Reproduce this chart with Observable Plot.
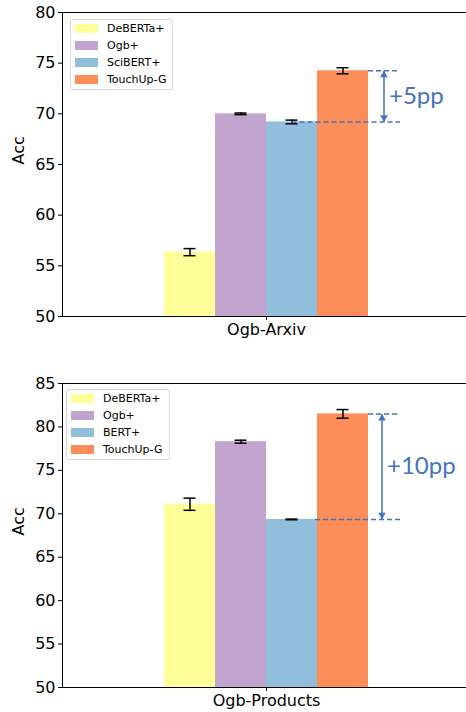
<!DOCTYPE html>
<html><head><meta charset="utf-8">
<script src="https://cdn.jsdelivr.net/npm/d3@7"></script>
<script src="https://cdn.jsdelivr.net/npm/@observablehq/plot@0.6"></script>
<style>
body{margin:0;background:#fff;}
#root{width:466px;height:712px;overflow:hidden;position:relative;background:#fff;}
.panel{position:relative;width:466px;overflow:hidden;}
.panel svg{display:block;max-width:none !important;height:auto;}
.legend{position:absolute;box-sizing:border-box;background:#fff;border:1px solid #d6d6d6;border-radius:3px;font:11px "DejaVu Sans",sans-serif;color:#000;}
.legend .row{display:flex;align-items:center;height:17px;}
.legend .sw{display:inline-block;width:23px;height:9px;}
</style>
</head><body><div id="root"></div>
<script>
// ---- data ----
const arxivDataset = "Ogb-Arxiv";
const arxivModels = ["DeBERTa+", "Ogb+", "SciBERT+", "TouchUp-G"];
const arxivAcc = [56.35, 70.0, 69.2, 74.25];
const arxivErr = [0.35, 0.08, 0.18, 0.3];
const arxivTicks = [50, 55, 60, 65, 70, 75, 80];

const productsDataset = "Ogb-Products";
const productsModels = ["DeBERTa+", "Ogb+", "BERT+", "TouchUp-G"];
const productsAcc = [71.1, 78.3, 69.35, 81.5];
const productsErr = [0.7, 0.17, 0.04, 0.5];
const productsTicks = [50, 55, 60, 65, 70, 75, 80, 85];

const colors = ["#ffff99", "#c2a5cf", "#91bfdb", "#fc8d59"];
const yLabel = "Acc";
const arxivGain = {label: "+5pp", from: "SciBERT+", to: "TouchUp-G"};
const productsGain = {label: "+10pp", from: "BERT+", to: "TouchUp-G"};

const annColor = "#4472c4";

function panel(cfg) {
  const {dataset, models, acc, err, ticks, gain, height, marginTop, marginBottom, lowStart, lowInset, arrowDx, legendPos} = cfg;
  const data = models.map((m, i) => ({dataset, model: m, acc: acc[i], err: err[i]}));
  const yMin = ticks[0], yMax = ticks[ticks.length - 1];
  const lo = d => d.acc - d.err, hi = d => d.acc + d.err;
  const fromD = data.find(d => d.model === gain.from);
  const toD = data.find(d => d.model === gain.to);
  const ann = [{dataset, from: gain.from, to: gain.to, start: lowStart, low: fromD.acc, high: toD.acc, label: gain.label}];
  const bw = 51;
  const chart = Plot.plot({
    width: 472, height, marginLeft: 62, marginRight: 2, marginTop, marginBottom,
    style: {fontFamily: "DejaVu Sans", fontSize: "16px", background: "white", color: "black", maxWidth: "none"},
    fx: {domain: [dataset], padding: 0, axis: "bottom", tickSize: 4, tickPadding: 3, label: null},
    x: {domain: models, paddingInner: 0, paddingOuter: 2, axis: null},
    y: {domain: [yMin, yMax], ticks, tickSize: 4, tickPadding: 3, label: null},
    color: {domain: models, range: colors},
    marks: [
      Plot.barY(data, {fx: "dataset", x: "model", y1: yMin, y2: "acc", fill: "model"}),
      Plot.ruleX(data, {fx: "dataset", x: "model", y1: lo, y2: hi, stroke: "black", strokeWidth: 1.5}),
      Plot.tickY(data, {fx: "dataset", x: "model", y: lo, insetLeft: 19.5, insetRight: 19.5, stroke: "black", strokeWidth: 1.5}),
      Plot.tickY(data, {fx: "dataset", x: "model", y: hi, insetLeft: 19.5, insetRight: 19.5, stroke: "black", strokeWidth: 1.5}),
      Plot.ruleY(ann, {fx: "dataset", x1: "to", x2: "to", y: "high", insetLeft: bw, insetRight: -32, stroke: annColor, strokeWidth: 1.5, strokeDasharray: "5,3"}),
      Plot.ruleY(ann, {fx: "dataset", x1: "start", x2: "to", y: "low", insetLeft: lowInset, insetRight: -32, stroke: annColor, strokeWidth: 1.5, strokeDasharray: "5,3"}),
      Plot.link(ann, {fx: "dataset", x1: "to", x2: "to", y1: "low", y2: "high", dx: arrowDx, stroke: annColor, strokeWidth: 1.5}),
      Plot.dot(ann, {fx: "dataset", x: "to", y: "high", dx: arrowDx, dy: 4.4, symbol: "triangle", r: 2.8, fill: annColor, stroke: null}),
      Plot.dot(ann, {fx: "dataset", x: "to", y: "low", dx: arrowDx, dy: -4.4, symbol: "triangle", rotate: 180, r: 2.8, fill: annColor, stroke: null}),
      Plot.text(ann, {fx: "dataset", x: "to", y: d => (d.low + d.high) / 2, text: "label", dx: arrowDx + 5, textAnchor: "start", fill: annColor, fontSize: 24, fontFamily: "Lato"}),
      Plot.frame({stroke: "black", strokeWidth: 1}),
      Plot.text([yLabel], {frameAnchor: "left", rotate: -90, dx: -44, fontSize: 16})
    ]
  });
  const wrap = document.createElement("div");
  wrap.className = "panel";
  wrap.style.height = height + "px";
  wrap.appendChild(chart);
  const lg = document.createElement("div");
  lg.className = "legend";
  lg.style.left = legendPos.left + "px";
  lg.style.top = legendPos.top + "px";
  lg.style.width = legendPos.width + "px";
  lg.style.height = legendPos.height + "px";
  models.forEach((m, i) => {
    const row = document.createElement("div");
    row.className = "row";
    const sw = document.createElement("span");
    sw.className = "sw";
    sw.style.background = colors[i];
    sw.style.marginLeft = legendPos.swLeft + "px";
    sw.style.marginRight = legendPos.gap + "px";
    const t = document.createElement("span");
    t.textContent = m;
    row.appendChild(sw); row.appendChild(t);
    lg.appendChild(row);
  });
  wrap.appendChild(lg);
  return wrap;
}

const root = document.getElementById("root");
root.appendChild(panel({
  dataset: arxivDataset, models: arxivModels, acc: arxivAcc, err: arxivErr, ticks: arxivTicks, gain: arxivGain,
  height: 350, marginTop: 12, marginBottom: 34, lowStart: arxivGain.from, lowInset: 25.5, arrowDx: 41,
  legendPos: {left: 70, top: 19, width: 103, height: 71, swLeft: 4, gap: 9}
}));
root.appendChild(panel({
  dataset: productsDataset, models: productsModels, acc: productsAcc, err: productsErr, ticks: productsTicks, gain: productsGain,
  height: 362, marginTop: 33, marginBottom: 25, lowStart: productsGain.to, lowInset: -2, arrowDx: 39,
  legendPos: {left: 66, top: 39, width: 104, height: 71, swLeft: 4, gap: 9}
}));
</script></body></html>
